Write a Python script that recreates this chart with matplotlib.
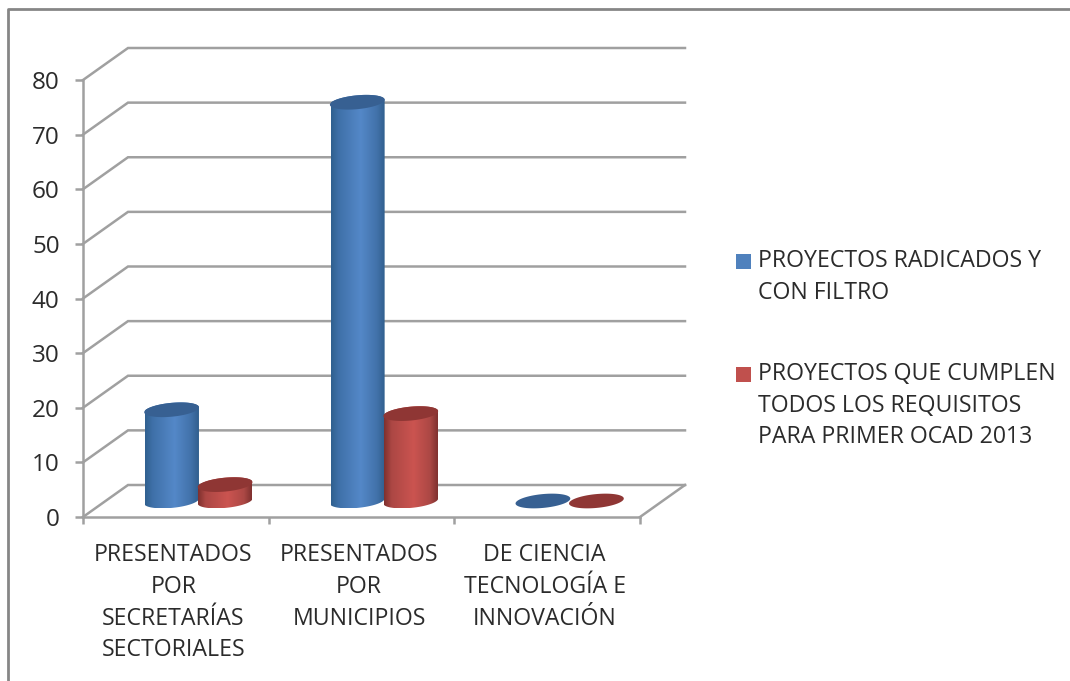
import numpy as np
import matplotlib
matplotlib.use("Agg")
import matplotlib.pyplot as plt
from matplotlib.colors import LinearSegmentedColormap
from matplotlib.legend_handler import HandlerPatch
from matplotlib.lines import Line2D
from matplotlib.patches import Patch, Polygon, Rectangle
from matplotlib.transforms import ScaledTranslation

categories = ["PRESENTADOS\nPOR\nSECRETARÍAS\nSECTORIALES", "PRESENTADOS\nPOR\nMUNICIPIOS", "DE CIENCIA\nTECNOLOGÍA E\nINNOVACIÓN"]
radicados = [16.7, 73, 0]
cumplen = [3, 16, 0]
series_names = ["PROYECTOS RADICADOS Y\nCON FILTRO", "PROYECTOS QUE CUMPLEN\nTODOS LOS REQUISITOS\nPARA PRIMER OCAD 2013"]
yticks = list(range(0, 90, 10))

plt.rcParams["font.family"] = ["Open Sans", "DejaVu Sans"]
W, H = 1070, 681
GRAY = "#A0A0A0"
TEXT = "#2B2B2B"
LW = 1.8
FS = 16.7
SPACING = 1.42

fig = plt.figure(figsize=(W / 100, H / 100), dpi=100, facecolor="white")
ax = fig.add_axes([83 / W, 1 - 517 / H, 557 / W, 437 / H])
ax.set_xlim(0, 3)
ax.set_ylim(0, 80)
ax.set_autoscale_on(False)
ax.patch.set_visible(False)

sx, sy = 557 / 3, 437 / 80      # pixels per data unit
DX, DY = 45 / sx, 32 / sy       # depth of the 3D box in data units

# Outer frame
fig.add_artist(Line2D([1.0, 8 / W, 8 / W], [1 - 9 / H, 1 - 9 / H, 0], color="#868686", lw=2.0))

# Walls
for v in yticks:
    ax.plot([0, DX, 3 + DX], [v, v + DY, v + DY], color=GRAY, lw=LW, clip_on=False, zorder=1, solid_joinstyle="miter")
ax.plot([3, 3 + DX], [0, DY], color=GRAY, lw=LW, clip_on=False, zorder=1)

for s in ("top", "right"):
    ax.spines[s].set_visible(False)
for s in ("left", "bottom"):
    ax.spines[s].set_color(GRAY)
    ax.spines[s].set_linewidth(LW)

ax.set_yticks(yticks)
ax.set_yticklabels([str(v) for v in yticks])
ax.tick_params(axis="y", length=5.8, width=LW, color=GRAY, labelsize=17.5, labelcolor=TEXT, pad=11)
ax.set_xticks(np.arange(4), minor=True)
ax.tick_params(axis="x", which="minor", length=5.2, width=LW, color=GRAY)
ax.set_xticks(np.arange(3) + 0.5)
ax.set_xticklabels(categories, linespacing=SPACING, ha="center", va="top")
ax.tick_params(axis="x", which="major", length=0, labelsize=FS, labelcolor=TEXT, pad=19)
shift = ScaledTranslation(-2.5 / 100, 0, fig.dpi_scale_trans)
for lab in ax.get_xticklabels():
    lab.set_transform(lab.get_transform() + shift)

# Cylinders
A, B = 27.5, 6.9          # ellipse half axes, px
PHI = np.deg2rad(5.5)
BAR = 53.5 / sx


def ellipse(t, cx, cy):
    return (cx + A * np.cos(t) * np.cos(PHI) - B * np.sin(t) * np.sin(PHI),
            cy + A * np.cos(t) * np.sin(PHI) + B * np.sin(t) * np.cos(PHI))


def cylinder(xc, value, side, top_col, z):
    base_y = DY / 2
    x0, y0 = ax.transData.transform((xc, base_y))
    x1, y1 = ax.transData.transform((xc, base_y + value))
    inv = ax.transData.inverted()
    t0 = np.arctan2(-B * np.sin(PHI), A * np.cos(PHI))  # rightmost point
    if value > 0:
        lower = np.linspace(t0 - np.pi, t0, 60)
        upper = np.linspace(t0, t0 + np.pi, 60)
        bx, by = ellipse(lower, x0, y0)
        tx, ty = ellipse(upper, x1, y1)
        pts = inv.transform(np.column_stack([np.r_[bx, tx], np.r_[by, ty]]))
        poly = Polygon(pts, closed=True, transform=ax.transData, fc="none", ec="none", clip_on=False)
        ax.add_patch(poly)
        cmap = LinearSegmentedColormap.from_list("c", side)
        grad = np.linspace(0, 1, 256)[None, :]
        left, right = xc - BAR / 2, xc + BAR / 2
        im = ax.imshow(grad, cmap=cmap, extent=(left, right, pts[:, 1].min(), pts[:, 1].max()),
                       aspect="auto", zorder=z, interpolation="bilinear")
        im.set_clip_path(poly)
    ex, ey = ellipse(np.linspace(0, 2 * np.pi, 120), x1, y1)
    ax.add_patch(Polygon(inv.transform(np.column_stack([ex, ey])), closed=True, fc=top_col, ec="none",
                         zorder=z + 0.1, clip_on=False))


blue_side = [(0, "#30608F"), (0.14, "#3F70A8"), (0.55, "#5488C8"), (0.85, "#4272AA"), (1, "#315F8E")]
red_side = [(0, "#7E302E"), (0.14, "#AC4744"), (0.55, "#CB5450"), (0.85, "#AC4845"), (1, "#7F312F")]
blue_top, red_top = "#376092", "#8F3634"

for i, (b, r) in enumerate(zip(radicados, cumplen)):
    c = i + 0.5 + DX / 2
    cylinder(c - BAR / 2, b, blue_side, blue_top, 3 + i)
    cylinder(c + BAR / 2, r, red_side, red_top, 3.5 + i)


class FirstLineHandler(HandlerPatch):
    """Legend swatch aligned with the first line of a multi-line label."""

    def __init__(self, nlines):
        super().__init__()
        self.nlines = nlines

    def create_artists(self, legend, orig, xd, yd, w, h, fs, trans):
        up = (self.nlines - 1) * 16 * 0.72
        p = Rectangle((-xd, -yd + up), w, h, fc=orig.get_facecolor(), ec="none", transform=trans)
        return [p]


# Legend
handles = [Patch(fc="#4F81BD", ec="#4F81BD"), Patch(fc="#C0504D", ec="#C0504D")]
handler_map = {handles[k]: FirstLineHandler(series_names[k].count("\n") + 1) for k in range(2)}
leg = ax.legend(handles, series_names, loc="upper left", bbox_to_anchor=(736 / W, 1 - 249 / H),
                bbox_transform=fig.transFigure, frameon=False, fontsize=FS, labelcolor=TEXT,
                handlelength=0.65, handleheight=0.65, handletextpad=0.3, labelspacing=2.48,
                borderpad=0, borderaxespad=0, handler_map=handler_map)
for t in leg.get_texts():
    t.set_linespacing(SPACING)

fig.savefig("out.png", dpi=100, facecolor="white")
